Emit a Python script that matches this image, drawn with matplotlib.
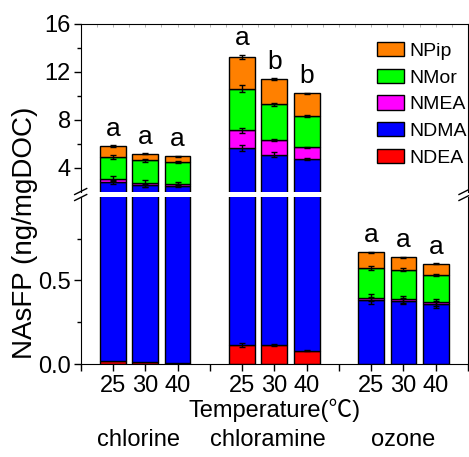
import numpy as np
import matplotlib.pyplot as plt
from matplotlib.transforms import blended_transform_factory

plt.rcParams['font.family'] = ['Liberation Sans', 'DejaVu Sans']

# bar positions: three temperatures per oxidant, with an empty slot between groups
x_pos = [1, 2, 3, 5, 6, 7, 9, 10, 11]
temps = ['25', '30', '40']
groups = ['chlorine', 'chloramine', 'ozone']
letters = ['a', 'a', 'a', 'a', 'b', 'b', 'a', 'a', 'a']

species = ['NDEA', 'NDMA', 'NMEA', 'NMor', 'NPip']
colors = ['#ff0000', '#0000ff', '#ff00ff', '#00ff00', '#ff8000']

# stacked segment heights (ng/mgDOC)
ndea = [0.02, 0.012, 0.008, 0.114, 0.112, 0.078, 0.0, 0.0, 0.0]
ndma = [2.81, 2.54, 2.52, 5.51, 4.98, 4.67, 0.382, 0.378, 0.358]
nmea = [0.28, 0.17, 0.16, 1.53, 1.25, 0.96, 0.016, 0.010, 0.012]
nmor = [1.81, 1.90, 1.81, 3.46, 2.96, 2.62, 0.176, 0.176, 0.164]
npip = [0.90, 0.58, 0.48, 2.63, 2.12, 1.90, 0.094, 0.074, 0.066]

ndea_err = [0.0, 0.0, 0.0, 0.012, 0.005, 0.003, 0.0, 0.0, 0.0]
ndma_err = [0.15, 0.1, 0.1, 0.25, 0.2, 0.1, 0.02, 0.02, 0.02]
nmea_err = [0.2, 0.3, 0.1, 0.2, 0.1, 0.05, 0.02, 0.02, 0.02]
nmor_err = [0.2, 0.1, 0.1, 0.3, 0.1, 0.1, 0.01, 0.01, 0.005]
npip_err = [0.1, 0.05, 0.05, 0.2, 0.1, 0.05, 0.005, 0.005, 0.004]

values = [ndea, ndma, nmea, nmor, npip]
errors = [ndea_err, ndma_err, nmea_err, nmor_err, npip_err]

fig = plt.figure(figsize=(4.69, 4.57), dpi=100)
left, right = 0.172, 0.998
ax_top = fig.add_axes([left, 0.580, right - left, 0.9475 - 0.580])
ax_bot = fig.add_axes([left, 0.2035, right - left, 0.569 - 0.2035])

for ax in (ax_top, ax_bot):
    bottom = np.zeros(len(x_pos))
    for vals, errs, c, name in zip(values, errors, colors, species):
        vals = np.array(vals)
        ax.bar(x_pos, vals, 0.8, bottom=bottom, color=c, edgecolor='black',
               linewidth=1, label=name)
        top = bottom + vals
        e = np.array(errs)
        m = e > 0
        ax.errorbar(np.array(x_pos)[m], top[m], yerr=e[m], fmt='none',
                    ecolor='black', capsize=2.5, elinewidth=1, capthick=1)
        bottom = top
    ax.set_xlim(0, 12)

totals = np.sum(values, axis=0)
tops_err = totals + np.array(npip_err)

ax_top.set_ylim(2, 16)
ax_top.set_yticks([4, 8, 12, 16])
ax_top.set_yticks([6, 10, 14], minor=True)
ax_top.spines['bottom'].set_visible(False)
ax_top.tick_params(axis='x', which='both', bottom=False, labelbottom=False,
                   top=True, direction='in', length=2, width=0.5, colors='#999999')
ax_top.set_xticks(np.arange(0, 12.5, 0.5))
ax_top.tick_params(axis='y', labelsize=17, length=5, width=1, pad=2)
ax_top.tick_params(axis='y', which='minor', length=3, width=1)

ax_bot.set_ylim(0, 1.0)
ax_bot.set_yticks([0, 0.5])
ax_bot.set_yticklabels(['0.0', '0.5'])
ax_bot.set_yticks([0.25, 0.75], minor=True)
ax_bot.spines['top'].set_visible(False)
ax_bot.set_xticks(range(13))
ax_bot.set_xticklabels(['', *temps, '', *temps, '', *temps, ''])
ax_bot.tick_params(axis='x', labelsize=17, length=5, width=1, pad=3)
ax_bot.tick_params(axis='y', labelsize=17, length=5, width=1, pad=2)
ax_bot.tick_params(axis='y', which='minor', length=3, width=1)

# significance letters
for i, (x, t, lab) in enumerate(zip(x_pos, tops_err, letters)):
    ax = ax_bot if i >= 6 else ax_top
    ax.annotate(lab, (x, t), xytext=(0, 3), textcoords='offset points',
                ha='center', va='bottom', fontsize=19)

handles, labels = ax_top.get_legend_handles_labels()
ax_top.legend(handles[::-1], labels[::-1], loc='upper left',
              bbox_to_anchor=(0.74, 0.95), frameon=False, fontsize=14,
              handlelength=1.4, handleheight=0.75, labelspacing=0.45,
              handletextpad=0.25, borderpad=0)

# axis break marks
for xb in (80.7, 465):
    for yb in (191.5, 197.5):
        fig.add_artist(plt.Line2D([(xb - 6) / 469, (xb + 6) / 469],
                                  [1 - (yb + 3) / 457, 1 - (yb - 3) / 457],
                                  color='black', lw=1))

fig.text(0.053, 0.49, 'NAsFP (ng/mgDOC)', rotation=90, ha='center', va='center',
         fontsize=20)

tr = blended_transform_factory(ax_bot.transData, fig.transFigure)
ax_bot.text(6, 0.103, 'Temperature(℃)', transform=tr, ha='center', va='center',
            fontsize=17, family=['Liberation Sans', 'Noto Sans CJK SC'])
for gx, g in zip([1.8, 5.8, 10], groups):
    ax_bot.text(gx, 0.037, g, transform=tr, ha='center', va='center', fontsize=17)

fig.savefig('out.png', dpi=100)
